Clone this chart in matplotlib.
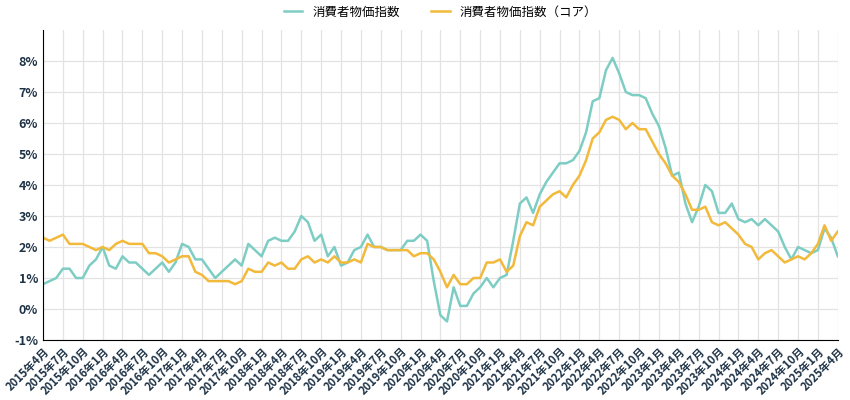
import matplotlib
matplotlib.use("Agg")
import matplotlib.pyplot as plt

plt.rcParams["font.family"] = "Noto Sans CJK JP"

start_year, start_month = 2015, 4
cpi = [0.8,0.9,1.0,1.3,1.3,1.0,1.0,1.4,1.6,
       2.0,1.4,1.3,1.7,1.5,1.5,1.3,1.1,1.3,1.5,1.2,1.5,
       2.1,2.0,1.6,1.6,1.3,1.0,1.2,1.4,1.6,1.4,2.1,1.9,
       1.7,2.2,2.3,2.2,2.2,2.5,3.0,2.8,2.2,2.4,1.7,2.0,
       1.4,1.5,1.9,2.0,2.4,2.0,2.0,1.9,1.9,1.9,2.2,2.2,
       2.4,2.2,0.9,-0.2,-0.4,0.7,0.1,0.1,0.5,0.7,1.0,0.7,
       1.0,1.1,2.2,3.4,3.6,3.1,3.7,4.1,4.4,4.7,4.7,4.8,
       5.1,5.7,6.7,6.8,7.7,8.1,7.6,7.0,6.9,6.9,6.8,6.3,
       5.9,5.2,4.3,4.4,3.4,2.8,3.3,4.0,3.8,3.1,3.1,3.4,
       2.9,2.8,2.9,2.7,2.9,2.7,2.5,2.0,1.6,2.0,1.9,1.8,
       1.9,2.6,2.3,1.7]
core = [2.3,2.2,2.3,2.4,2.1,2.1,2.1,2.0,1.9,2.0,1.9,2.1,2.2,2.1,2.1,2.1,1.8,1.8,1.7,1.5,
        1.6,1.7,1.7,1.2,1.1,0.9,0.9,0.9,0.9,0.8,0.9,1.3,1.2,1.2,1.5,1.4,1.5,1.3,1.3,1.6,
        1.7,1.5,1.6,1.5,1.7,1.5,1.5,1.6,1.5,2.1,2.0,2.0,1.9,1.9,1.9,1.9,1.7,1.8,1.8,1.6,
        1.2,0.7,1.1,0.8,0.8,1.0,1.0,1.5,1.5,1.6,1.2,1.4,2.35,2.8,2.7,3.3,3.5,3.7,3.8,3.6,
        4.0,4.3,4.8,5.5,5.7,6.1,6.2,6.1,5.8,6.0,5.8,5.8,5.4,5.0,4.7,4.3,4.1,3.7,3.2,3.2,
        3.3,2.8,2.7,2.8,2.6,2.4,2.1,2.0,1.6,1.8,1.9,1.7,1.5,1.6,1.7,1.6,1.8,2.1,2.7,2.2,2.5]
series_names = ["消費者物価指数", "消費者物価指数（コア）"]

labels = []
for i in range(len(cpi)):
    m = start_month - 1 + i
    labels.append(f"{start_year + m // 12}年{m % 12 + 1}月")
x = list(range(len(cpi)))

fig = plt.figure(figsize=(8.5, 4), dpi=100)
ax = fig.add_axes([0.0506, 0.15, 0.935, 0.775])
ax.plot(x, cpi, color="#7ecdc4", lw=1.8, label=series_names[0])
ax.plot(x, core, color="#f2b93b", lw=1.8, label=series_names[1])
ax.set_xlim(0, len(cpi) - 1)
ax.set_ylim(-1, 9)
ax.set_yticks(range(-1, 9))
ax.set_yticklabels([f"{v}%" for v in range(-1, 9)], color="#1f3347", fontsize=9,
                   fontweight="bold")
ax.set_xticks(x[::3])
ax.set_xticklabels(labels[::3], rotation=45, ha="right", rotation_mode="anchor",
                   fontsize=8, color="#1f3347", fontweight="bold")
ax.grid(True, color="#e3e3e3", lw=0.9)
ax.set_axisbelow(True)
for s in ["top", "right"]:
    ax.spines[s].set_visible(False)
ax.spines["left"].set_color("black")
ax.spines["bottom"].set_color("black")
ax.tick_params(axis="both", length=0)
ax.legend(loc="lower center", bbox_to_anchor=(0.5, 1.0), ncol=2, frameon=False,
          fontsize=9, handlelength=1.5, columnspacing=2.5)
fig.savefig("out.png", dpi=100)
